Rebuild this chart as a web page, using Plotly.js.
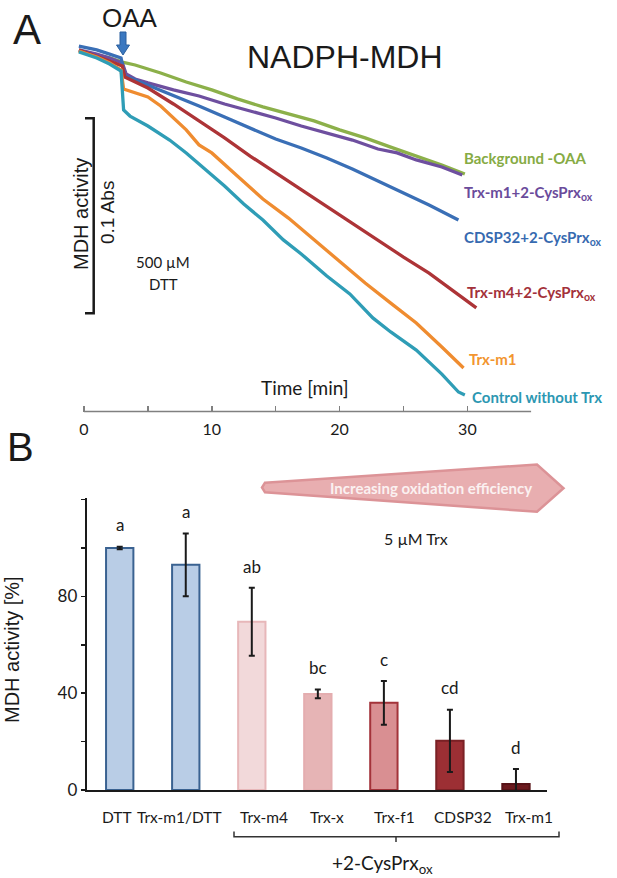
<!DOCTYPE html>
<html><head><meta charset="utf-8">
<script src="https://cdn.plot.ly/plotly-3.0.1.min.js"></script>
<style>html,body{margin:0;padding:0;background:#fff}</style>
</head><body>
<div id="chart" style="width:617px;height:878px"></div>
<script>
// ---------- Panel A data: time [min] and absorbance (mAbs, relative) ----------
const bgTime = [-0.4,1,2,3,4,6,8,10,12,14,16,18,20,22,24,26,28,29.8];
const bgAbs  = [183.1,181.0,179.5,177.4,175.9,171.8,167.2,163.1,158.5,154.4,150.8,147.2,142.6,138.5,133.8,129.2,124.6,120.0];

const m1PrxTime = [-0.4,1,2,3,3.3,4,5,7,9,11,13,15,17,19,21,23,24.5,26,28,29.6];
const m1PrxAbs  = [183.6,181.5,179.5,176.9,171.3,168.7,166.7,163.1,160.0,155.9,152.3,148.7,144.6,141.0,137.4,132.8,130.8,127.2,123.6,119.5];

const cdspPrxTime = [-0.4,1,2,2.9,3.2,4,5.5,7,9,11,13,15,17,19,21,23,25,27,29.3];
const cdspPrxAbs  = [185.6,183.6,181.5,179.5,170.3,168.2,164.1,160.5,154.9,149.2,143.6,137.9,133.3,128.2,122.6,116.4,110.3,104.1,96.4];

const m4PrxTime = [-0.4,1,2,3,3.2,5,7,9,11,13,15,17,19,21,23,25,27,29,30.7];
const m4PrxAbs  = [183.6,180.5,177.9,175.4,169.7,164.1,155.9,147.2,138.5,129.2,120.5,111.8,103.1,94.9,86.2,77.4,69.2,59.5,51.3];

const m1Time = [-0.4,1,2,2.9,3.1,4,5,6,7,8,9,10,12,14,16,18,20,22,24,26,28,29.7];
const m1Abs  = [183.1,180.0,176.9,173.3,163.6,161.5,159.5,154.9,148.7,142.6,134.9,130.8,119.0,107.2,97.4,86.2,74.9,64.1,53.8,43.6,31.3,20.5];

const ctrlTime = [-0.4,1,2,2.9,3.1,3.6,5,6.7,8,9.3,11,12.5,14,15.6,17,19,20.8,22.6,24,26,28,29.3,29.8];
const ctrlAbs  = [182.6,179.5,176.4,172.8,152.8,149.7,144.6,137.4,130.8,123.6,113.8,104.6,96.4,86.2,79.0,67.7,58.5,46.2,39.0,29.7,17.4,8.2,6.7];

const seriesNames = ['Background -OAA','Trx-m1+2-CysPrx<sub>ox</sub>','CDSP32+2-CysPrx<sub>ox</sub>','Trx-m4+2-CysPrx<sub>ox</sub>','Trx-m1','Control without Trx'];
const timeTicks = [0,10,20,30];
const timeTickText = ['0','10','20','30'];

// ---------- Panel B data ----------
const categories = ['DTT','Trx-m1/DTT','Trx-m4','Trx-x','Trx-f1','CDSP32','Trx-m1'];
const activity   = [100, 93, 69.5, 39.7, 36, 20.3, 2.5];
const activityErr= [0.5, 13, 14, 1.8, 9, 12.9, 6.2];
const sigLetters = ['a','a','ab','bc','c','cd','d'];
const actTicks = [0,40,80];
const actTickText = ['0','40','80'];

// ---------- styles ----------
const W = 617, H = 878;
const X = px => px / W;
const Y = py => 1 - py / H;
const lineColors = ['#8cb04a','#6e4f9f','#3a6fb6','#ad3437','#ef8c30','#2f9db6'];
const labelColors = ['#86ab44','#6a4b9b','#376ab0','#a3313a','#f2952f','#2c97b2'];
const barFill = ['#b9cde6','#b9cde6','#f2d9da','#e6b4b5','#d98f92','#9c2f34','#6c1a1e'];
const barLine = ['#3a6291','#3a6291','#e7b7b9','#e4adaf','#a3333a','#7a2125','#571317'];
const catLabelShift = [-3,-6,12,9,11,13,13];   // px offsets of the category labels
const CAL = 'Lato, "Open Sans", sans-serif';
const ARI = '"Liberation Sans", Arial, sans-serif';

const tA = [bgTime,m1PrxTime,cdspPrxTime,m4PrxTime,m1Time,ctrlTime];
const yA = [bgAbs,m1PrxAbs,cdspPrxAbs,m4PrxAbs,m1Abs,ctrlAbs];

const traces = tA.map((t,i)=>({
  type:'scatter', mode:'lines', x:t, y:yA[i], xaxis:'x', yaxis:'y',
  line:{color:lineColors[i], width:3.3}, name:seriesNames[i], hoverinfo:'skip'
}));

traces.push({
  type:'bar', x:categories.map((c,i)=>i), y:activity, xaxis:'x2', yaxis:'y2',
  width:0.414,
  marker:{color:barFill, line:{color:barLine, width:2}},
  error_y:{type:'data', array:activityErr, visible:true, color:'#1a1a1a', thickness:2, width:3},
  hoverinfo:'skip'
});

// label pixel positions for panel A
const labelPos = [[462,158],[462,193],[462,238],[465,293],[467,359],[470,397]];

const annotations = [];
seriesNames.forEach((n,i)=>{
  annotations.push({xref:'paper',yref:'paper',x:X(labelPos[i][0]),y:Y(labelPos[i][1]),
    xanchor:'left',yanchor:'middle',showarrow:false,text:'<b>'+n+'</b>',
    font:{family:CAL,size:15,color:labelColors[i]}});
});
const txt = (x,y,text,size,fam,opts={}) => annotations.push(Object.assign({
  xref:'paper',yref:'paper',x:X(x),y:Y(y),xanchor:'center',yanchor:'middle',
  showarrow:false,text:text,font:{family:fam,size:size,color:'#1a1a1a'}},opts));

txt(27,29,'A',42,ARI);
txt(130,18,'OAA',26,ARI);
txt(345,57,'NADPH-MDH',32,ARI);
txt(81,214,'MDH activity',20,ARI,{textangle:-90});
txt(107,213,'0.1 Abs',19,ARI,{textangle:-90});
txt(163,262,'500 µM',15,CAL);
txt(163,284,'DTT',15,CAL);
txt(305,387,'Time [min]',19,CAL);
txt(21,447,'B',40,ARI);
txt(12,650,'MDH activity [%]',20,ARI,{textangle:-90});
txt(416,538,'5 µM Trx',16,CAL);
txt(431,488,'<b>Increasing oxidation efficiency</b>',15,CAL,{font:{family:CAL,size:15,color:'#fbf1f1'}});
txt(382,864,'+2-CysPrx<sub>ox</sub>',19,CAL);

categories.forEach((c,i)=>{
  annotations.push({xref:'x2',yref:'y2',x:i,y:activity[i]+activityErr[i]+9,
    xanchor:'center',yanchor:'middle',showarrow:false,text:sigLetters[i],
    font:{family:CAL,size:17,color:'#1a1a1a'}});
  annotations.push({xref:'x2',yref:'paper',x:i,y:Y(817),xshift:catLabelShift[i],
    xanchor:'center',yanchor:'middle',showarrow:false,text:c,
    font:{family:CAL,size:15.5,color:'#1a1a1a'}});
});

const path = pts => 'M ' + pts.map(p=>X(p[0])+','+Y(p[1])).join(' L ') + ' Z';
const shapes = [
  // panel A time axis line
  {type:'line',xref:'x',yref:'paper',x0:0,x1:35,y0:Y(411.5),y1:Y(411.5),line:{color:'#808080',width:1.5}},
  // scale bar
  {type:'path',xref:'paper',yref:'paper',
   path:'M '+X(85)+','+Y(118.3)+' L '+X(93.7)+','+Y(118.3)+' L '+X(93.7)+','+Y(313.3)+' L '+X(85)+','+Y(313.3),
   line:{color:'#1a1a1a',width:2.5}},
  // OAA arrow
  {type:'path',xref:'paper',yref:'paper',
   path:path([[120,32],[126,32],[126,45],[129.5,45],[123,55],[116.5,45],[120,45]]),
   fillcolor:'#3b78c0',line:{color:'#2b5f9e',width:1}},
  // oxidation efficiency arrow
  {type:'path',xref:'paper',yref:'paper',
   path:path([[265,482.7],[537,464.5],[563.5,488.3],[537,511.7],[265,492.3],[262,487.5]]),
   fillcolor:'#e8aeb0',line:{color:'#dc9397',width:2.5}},
  // +2-CysPrx bracket
  {type:'path',xref:'paper',yref:'paper',
   path:'M '+X(234)+','+Y(831.5)+' L '+X(234)+','+Y(836.7)+' L '+X(559)+','+Y(836.7)+' L '+X(559)+','+Y(831.5)+
        ' M '+X(396)+','+Y(836.7)+' L '+X(396)+','+Y(842),
   line:{color:'#333',width:1.5}}
];

const layout = {
  width:W, height:H, autosize:false,
  margin:{l:0,r:0,t:0,b:0,pad:0},
  paper_bgcolor:'#fff', plot_bgcolor:'rgba(0,0,0,0)',
  showlegend:false,
  xaxis:{domain:[X(77.6),X(531.3)], range:[-0.5,35], anchor:'y',
    tickvals:timeTicks, ticktext:timeTickText, ticks:'inside', ticklen:6,
    tickcolor:'#808080', tickwidth:1.5, showline:false, showgrid:false, zeroline:false,
    minor:{dtick:5, tick0:0, ticks:'inside', ticklen:6, tickcolor:'#808080', tickwidth:1.5, showgrid:false},
    ticklabelstandoff:6, tickangle:0,
    tickfont:{family:CAL,size:16,color:'#1a1a1a'}},
  yaxis:{domain:[Y(411.5),Y(21.5)], range:[-1.8,198.2], visible:false, anchor:'x'},
  xaxis2:{domain:[X(86.7),X(547)], range:[-0.5,6.47], anchor:'y2',
    showticklabels:false, ticks:'',
    showline:true, linecolor:'#1a1a1a', linewidth:2, showgrid:false, zeroline:false},
  yaxis2:{domain:[Y(790),Y(498.3)], range:[0,120.5], anchor:'x2',
    tickvals:actTicks, ticktext:actTickText, ticks:'outside', ticklen:4,
    tickcolor:'#1a1a1a', tickwidth:1.5, showline:true, linecolor:'#1a1a1a', linewidth:2,
    minor:{dtick:20, tick0:0, ticks:'outside', ticklen:4, tickcolor:'#1a1a1a', tickwidth:1.5, showgrid:false},
    showgrid:false, zeroline:false,
    tickfont:{family:CAL,size:17,color:'#1a1a1a'}},
  annotations:annotations,
  shapes:shapes
};

Plotly.newPlot('chart', traces, layout, {displayModeBar:false, staticPlot:true});
</script>
</body></html>
